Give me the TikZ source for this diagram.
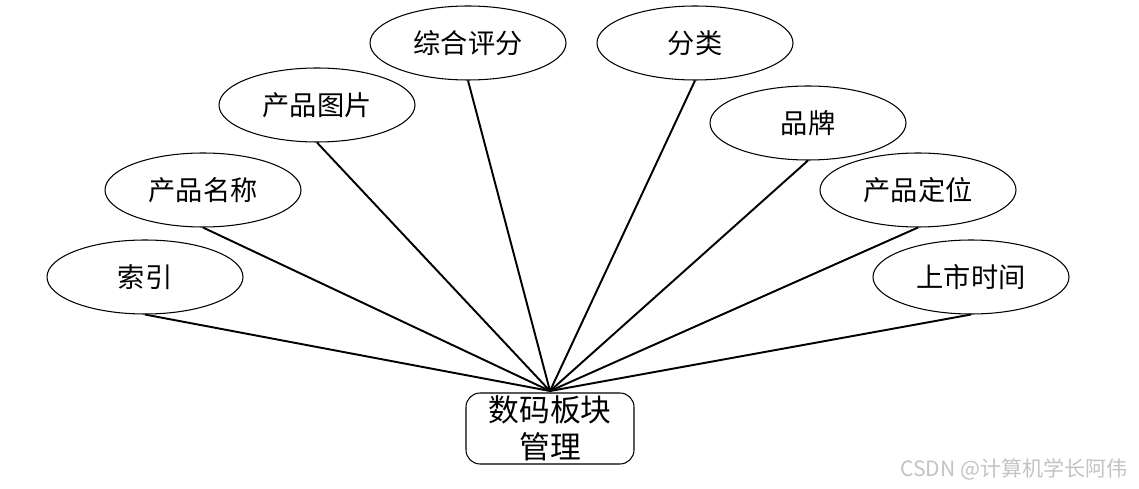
\documentclass[tikz,border=0pt]{standalone}
\usepackage{fontspec}
\usetikzlibrary{shapes.geometric}
\newfontfamily\cjk{Noto Sans CJK SC}
\definecolor{markgray}{RGB}{195, 195, 195}

\begin{document}
\begin{tikzpicture}[
        x=0.02cm, y=-0.02cm,
        attr/.style={draw, ellipse, line width=0.6pt, minimum width=196*0.02cm, minimum height=74*0.02cm, inner sep=0pt, font=\cjk\fontsize{15.5}{18}\selectfont},
        entity/.style={draw, rounded corners=8pt, line width=0.6pt, minimum width=168*0.02cm, minimum height=71*0.02cm, align=center, inner sep=0pt, font=\cjk\fontsize{17.5}{21}\selectfont},
        link/.style={line width=1.1pt}
      ]
        \useasboundingbox (0,0) rectangle (1139,489);
        \node[entity] (digital) at (550,428.5) {数码板块\\管理};
        \node[attr] (index) at (145,277) {索引};
        \node[attr] (pname) at (203,190) {产品名称};
        \node[attr] (pimage) at (317,105) {产品图片};
        \node[attr] (score) at (468,43) {综合评分};
        \node[attr] (category) at (695,43) {分类};
        \node[attr] (brand) at (808,123) {品牌};
        \node[attr] (position) at (918,190) {产品定位};
        \node[attr] (launch) at (971,277) {上市时间};
        \coordinate (hub) at (550,391);
        \foreach \n in {index,pname,pimage,score,category,brand,position,launch}
          \draw[link] (\n.south) -- (hub);
        \node[text=markgray, font=\cjk\fontsize{12}{14}\selectfont, anchor=east] (mark) at (1134,469) {CSDN @计算机学长阿伟};
      \end{tikzpicture}
\end{document}
